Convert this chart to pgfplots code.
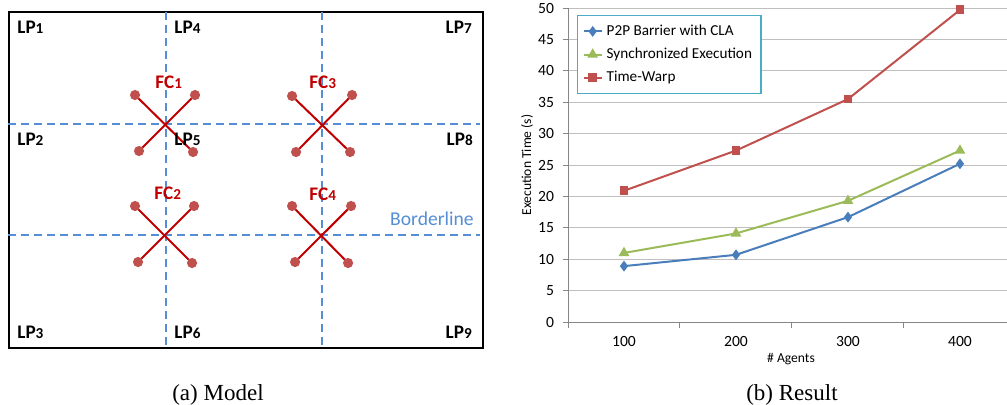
\documentclass[border=0pt]{standalone}
\usepackage{fontspec}
\setmainfont{Carlito}
\newfontfamily\capfont{Liberation Serif}
\usepackage{pgfplots}
\pgfplotsset{compat=1.18}
\definecolor{lineblue}{HTML}{558ED5}
\definecolor{fcred}{HTML}{C00000}
\definecolor{dotred}{HTML}{C0504D}
\definecolor{p2pblue}{HTML}{4A7EBB}
\definecolor{syncgreen}{HTML}{9BBB59}
\definecolor{twred}{HTML}{C0504D}
\definecolor{legframe}{HTML}{4BACC6}
\definecolor{gridgray}{HTML}{BFBFBF}
\definecolor{axisgray}{HTML}{868686}

% LP / FC labels: small digit after the letters
\newcommand{\lp}[1]{\textbf{LP{\fontsize{7.6}{8}\selectfont #1}}}
\newcommand{\fc}[1]{\textbf{FC{\fontsize{7.6}{8}\selectfont #1}}}

\tikzset{
  lbl/.style={font=\fontsize{9.6}{10}\selectfont\bfseries, inner sep=0pt},
  border/.style={lineblue, dash pattern=on 4pt off 2.5pt, line width=1pt},
}
\pgfplotsset{
  fcline/.style={fcred, line width=1pt, mark=*, mark size=2pt, mark options={draw=dotred, fill=dotred}},
}

\begin{document}
\begin{tikzpicture}
\useasboundingbox (0,0) rectangle (503.5pt,-202pt);

% ---------- (a) Model: pixel coordinates of the reference, y downwards
\begin{axis}[
  at={(4.5pt,-174pt)}, anchor=south west,
  scale only axis, width=237pt, height=168pt,
  xmin=9, xmax=483, ymin=12, ymax=348, y dir=reverse,
  ticks=none, axis line style={black, line width=1pt},
  clip=false,
]
\draw[border] (axis cs:8,124) -- (axis cs:480,124);
\draw[border] (axis cs:8,235) -- (axis cs:480,235);
\draw[border] (axis cs:166,12) -- (axis cs:166,349);
\draw[border] (axis cs:322,12) -- (axis cs:322,349);

\addplot[fcline] coordinates {(135,95) (193,152)};
\addplot[fcline] coordinates {(195,95) (139,151)};
\addplot[fcline] coordinates {(292,96) (350,152)};
\addplot[fcline] coordinates {(352,95) (296,152)};
\addplot[fcline] coordinates {(135,206) (192,263)};
\addplot[fcline] coordinates {(194,206) (138,262)};
\addplot[fcline] coordinates {(292,206) (348,263)};
\addplot[fcline] coordinates {(351,206) (295,262)};

\node[lbl, anchor=base west] at (axis cs:17,33) {\lp{1}};
\node[lbl, anchor=base west] at (axis cs:174,33) {\lp{4}};
\node[lbl, anchor=base east] at (axis cs:472,33) {\lp{7}};
\node[lbl, anchor=base west] at (axis cs:17,145) {\lp{2}};
\node[lbl, anchor=base west] at (axis cs:174,145) {\lp{5}};
\node[lbl, anchor=base east] at (axis cs:473,145) {\lp{8}};
\node[lbl, anchor=base west] at (axis cs:17,338) {\lp{3}};
\node[lbl, anchor=base west] at (axis cs:174,338) {\lp{6}};
\node[lbl, anchor=base east] at (axis cs:472,338) {\lp{9}};
\node[lbl, anchor=base west, text=fcred] at (axis cs:155,88) {\fc{1}};
\node[lbl, anchor=base west, text=fcred] at (axis cs:309,88) {\fc{3}};
\node[lbl, anchor=base west, text=fcred] at (axis cs:154,199) {\fc{2}};
\node[lbl, anchor=base west, text=fcred] at (axis cs:309,200) {\fc{4}};
\node[anchor=base east, inner sep=0pt, text=lineblue, font=\fontsize{9.8}{10}\selectfont] at (axis cs:474,225) {Borderline};
\end{axis}

% ---------- (b) Result
\begin{axis}[
  at={(284pt,-161pt)}, anchor=south west,
  scale only axis, width=219.5pt, height=157pt,
  xmin=50, xmax=442, ymin=0, ymax=50,
  xtick={100,200,300,400},
  minor xtick={50,150,250,350},
  ytick={0,5,...,50},
  axis x line*=bottom, axis y line*=left,
  axis line style={draw=axisgray, line width=0.5pt},
  ymajorgrids, major grid style={draw=gridgray, line width=0.5pt},
  tick align=outside,
  major tick length=2.5pt, minor tick length=3pt,
  major x tick style={draw=none},
  minor x tick style={draw=axisgray, line width=0.5pt},
  major y tick style={draw=axisgray, line width=0.5pt},
  tick label style={font=\fontsize{7.8}{9}\selectfont},
  /pgf/number format/assume math mode=true,
  xticklabel style={yshift=-1pt},
  yticklabel style={xshift=-1pt},
  xlabel={\# Agents},
  xlabel style={font=\fontsize{6.8}{8}\selectfont, at={(axis description cs:0.508,-0.118)}, anchor=center},
  ylabel={Execution Time (s)},
  ylabel style={font=\fontsize{6.8}{8}\selectfont, at={(axis description cs:-0.093,0.5)}, anchor=center},
  legend style={at={(axis description cs:0.0205,0.978)}, anchor=north west,
    draw=legframe, line width=0.7pt, fill=white,
    font=\fontsize{7.6}{9}\selectfont, row sep=0.8pt, inner sep=2.5pt},
  legend cell align=left,
  legend image code/.code={\draw[mark repeat=2, mark phase=2] plot coordinates {(0pt,0pt) (4.5pt,0pt) (9pt,0pt)};},
  clip=false,
]
\addplot[p2pblue, line width=1pt, mark=diamond*, mark size=1.9pt, mark options={solid, fill=p2pblue}]
  coordinates {(100,8.9) (200,10.7) (300,16.7) (400,25.2)};
\addlegendentry{P2P Barrier with CLA}
\addplot[syncgreen, line width=1pt, mark=triangle*, mark size=2.1pt, mark options={solid, fill=syncgreen}]
  coordinates {(100,11.0) (200,14.1) (300,19.3) (400,27.3)};
\addlegendentry{Synchronized Execution}
\addplot[twred, line width=1pt, mark=square*, mark size=1.7pt, mark options={solid, fill=twred}]
  coordinates {(100,20.9) (200,27.3) (300,35.5) (400,49.7)};
\addlegendentry{Time-Warp}
\end{axis}

% captions
\node[font=\capfont\fontsize{11.5}{13}\selectfont, anchor=center] at (109pt,-197.5pt) {(a) Model};
\node[font=\capfont\fontsize{11.5}{13}\selectfont, anchor=center] at (396pt,-197.5pt) {(b) Result};
\end{tikzpicture}
\end{document}
